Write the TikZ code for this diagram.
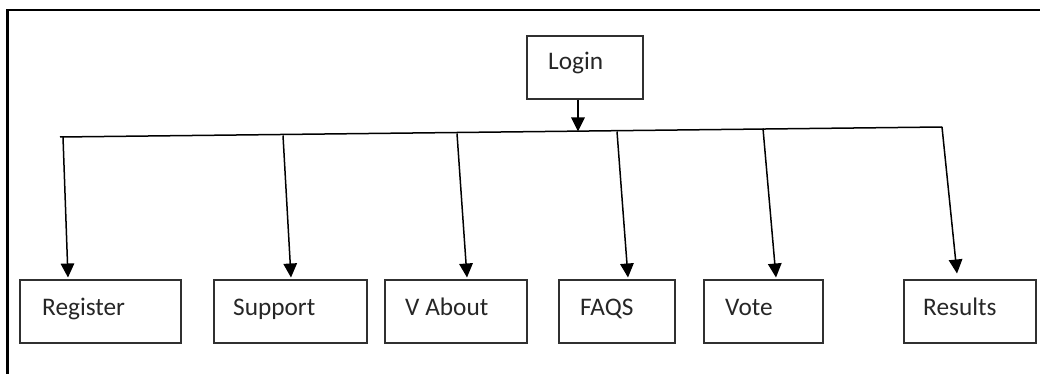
\documentclass[tikz,border=0pt]{standalone}
\usepackage{fontspec}
\setmainfont{Carlito}
\usetikzlibrary{arrows.meta}
\definecolor{boxline}{HTML}{303030}
\definecolor{txt}{HTML}{262626}
\tikzset{
  box/.style={draw=boxline, line width=1.7pt, anchor=north west, inner sep=0pt},
  lbl/.style={anchor=base west, inner sep=0pt, text=txt, font=\fontsize{25.3}{30}\selectfont},
  conn/.style={draw=black, line width=1.5pt},
  arr/.style={conn, -{Triangle[length=14pt,width=13.5pt]}},
  frame/.style={draw=black, line width=2.2pt}
}
\begin{document}
\begin{tikzpicture}[x=1pt,y=-1pt]
\useasboundingbox (0,0) rectangle (1040,374);
% frame
\coordinate (fTR) at (1040,9.8);
\coordinate (fTL) at (7.5,9.8);
\coordinate (fBL) at (7.5,374);
\draw[frame] (fTR) -- (fTL) -- (fBL);
% boxes
\node[box, minimum width=116pt, minimum height=63pt] (login) at (526,35) {};
\node[box, minimum width=161pt, minimum height=63pt] (reg) at (19,279) {};
\node[box, minimum width=153pt, minimum height=63pt] (sup) at (213,279) {};
\node[box, minimum width=142pt, minimum height=63pt] (abo) at (384,279) {};
\node[box, minimum width=116pt, minimum height=63pt] (faq) at (558,279) {};
\node[box, minimum width=119pt, minimum height=63pt] (vot) at (703,279) {};
\node[box, minimum width=132pt, minimum height=63pt] (res) at (903,279) {};
% texts
\node[lbl] (tlogin) at (548,69.3) {Login};
\node[lbl] (treg) at (42,315) {Register};
\node[lbl] (tsup) at (233,315) {Support};
\node[lbl] (tabo) at (405,315) {V About};
\node[lbl] (tfaq) at (580,315) {FAQS};
\node[lbl] (tvot) at (725,315) {Vote};
\node[lbl] (tres) at (923,315) {Results};
% bus
\coordinate (busL) at (60,137);
\coordinate (busM) at (578,131.5);
\coordinate (busR) at (942,127);
\coordinate (b1) at (63,137);
\coordinate (b2) at (283,135.5);
\coordinate (b3) at (457,133.5);
\coordinate (b4) at (617,131.5);
\coordinate (b5) at (763,128.5);
\draw[conn] (busL) -- (busR);
\draw[arr] (login.south -| busM) -- (busM);
% arrow targets
\coordinate (e1) at (68,277.5);
\coordinate (e2) at (291,277.5);
\coordinate (e3) at (467,277.5);
\coordinate (e4) at (628,277.5);
\coordinate (e5) at (776,277.5);
\coordinate (e6) at (957,273.5);
\draw[arr] (b1) -- (e1);
\draw[arr] (b2) -- (e2);
\draw[arr] (b3) -- (e3);
\draw[arr] (b4) -- (e4);
\draw[arr] (b5) -- (e5);
\draw[arr] (busR) -- (e6);
\end{tikzpicture}
\end{document}
